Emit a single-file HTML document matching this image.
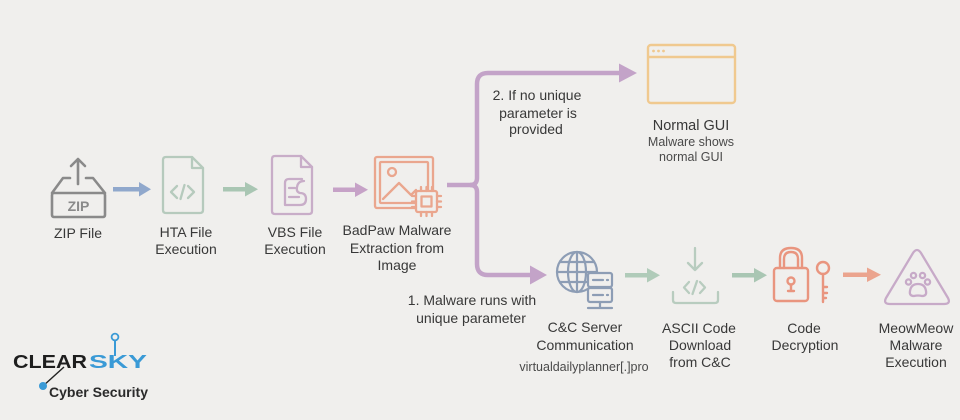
<!DOCTYPE html>
<html>
<head>
<meta charset="utf-8">
<style>
  html,body{margin:0;padding:0;background:#f0efed;}
  svg{display:block;}
  text{font-family:"Liberation Sans",Arial,sans-serif;}
</style>
</head>
<body>
<svg width="960" height="420" viewBox="0 0 960 420" xmlns="http://www.w3.org/2000/svg">
  <rect width="960" height="420" fill="#f0efed"/>

  <!-- ZIP icon -->
  <g stroke="#8a8a8a" stroke-width="2.6" fill="none" stroke-linecap="round" stroke-linejoin="round">
    <path d="M78 184 V159 M71 166 L78 159 L85 166"/>
    <path d="M70 178 H63 L52 193 M86 178 H93 L105 193"/>
    <rect x="52" y="193" width="53" height="24" rx="2"/>
  </g>
  <text x="78.5" y="211" font-weight="bold" font-size="14" fill="#8a8a8a" text-anchor="middle">ZIP</text>

  <!-- Arrow 1 -->
  <g fill="#90a8cc">
    <rect x="113" y="187" width="28" height="4.5"/>
    <polygon points="139,182 151,189.2 139,196.5"/>
  </g>

  <!-- HTA doc -->
  <g stroke="#b6cabd" stroke-width="2.3" fill="none" stroke-linecap="round" stroke-linejoin="round">
    <path d="M166 157 H192 L203 168 V210 Q203 213 200 213 H166 Q163 213 163 210 V160 Q163 157 166 157 Z"/>
    <path d="M192 157 V168 H203"/>
    <path d="M177 186 L171 192 L177 198 M188 186 L194 192 L188 198 M184.5 185 L180.5 199"/>
  </g>

  <!-- Arrow 2 -->
  <g fill="#a9c6b3">
    <rect x="223" y="187" width="24" height="4.5"/>
    <polygon points="245,182 258,189.2 245,196.5"/>
  </g>

  <!-- VBS doc -->
  <g stroke="#c8adc8" stroke-width="2.3" fill="none" stroke-linecap="round" stroke-linejoin="round">
    <path d="M275 156 H301 L312 167 V211 Q312 214 309 214 H275 Q272 214 272 211 V159 Q272 156 275 156 Z"/>
    <path d="M301 156 V167 H312"/>
    <path d="M302 179 H289 Q285 179 285 183 V205 H300 Q306 205 306 199 Q306 193 300 193 Q296 192 297 187 Q298 181 304 181"/>
    <path d="M289 188 H295 M289 197 H299"/>
  </g>

  <!-- Arrow 3 -->
  <g fill="#c6a2c7">
    <rect x="333" y="187.5" width="24" height="4.5"/>
    <polygon points="355,182.5 368,189.7 355,197"/>
  </g>

  <!-- BadPaw image + chip -->
  <g stroke="#eaa68e" stroke-width="2.3" fill="none" stroke-linecap="round" stroke-linejoin="round">
    <rect x="375" y="157" width="58" height="51" rx="2"/>
    <rect x="380" y="162" width="48" height="41" rx="1"/>
    <circle cx="392" cy="172" r="4"/>
    <polyline points="383,199 399,183 411,195 416,190"/>
    <rect x="416" y="191" width="21" height="21" rx="2" fill="#f0efed"/>
    <rect x="421.5" y="196.5" width="10" height="10"/>
    <path d="M421 187 V191 M426.5 187 V191 M432 187 V191 M421 212 V216 M426.5 212 V216 M432 212 V216 M412 196 H416 M412 201.5 H416 M412 207 H416 M437 196 H441 M437 201.5 H441 M437 207 H441"/>
  </g>

  <!-- Brace connectors -->
  <g stroke="#c3a3c8" stroke-width="4.5" fill="none" stroke-linecap="butt" stroke-linejoin="round">
    <path d="M447 185 H470 Q477 185 477 178 V84 Q477 73 488 73 H621"/>
    <path d="M470 185 Q477 185 477 192 V264 Q477 275 488 275 H532"/>
  </g>
  <g fill="#c3a3c8">
    <polygon points="619,63.5 637,73 619,82.5"/>
    <polygon points="530,265.5 547,275 530,284.5"/>
  </g>

  <!-- Normal GUI window -->
  <g stroke="#f0c98f" stroke-width="2.4" fill="none">
    <rect x="648" y="45" width="87" height="58" rx="3"/>
    <line x1="648" y1="57" x2="735" y2="57"/>
  </g>
  <g fill="#f0c98f">
    <circle cx="653.5" cy="51" r="1.4"/>
    <circle cx="658.5" cy="51" r="1.4"/>
    <circle cx="663.5" cy="51" r="1.4"/>
  </g>

  <!-- Globe + server -->
  <g stroke="#8d9db5" stroke-width="2.2" fill="none" stroke-linecap="round">
    <circle cx="577" cy="272" r="20"/>
    <ellipse cx="577" cy="272" rx="9" ry="20"/>
    <line x1="577" y1="252" x2="577" y2="292"/>
    <line x1="557" y1="272" x2="597" y2="272"/>
    <path d="M560 262 H594 M560 282 H590"/>
    <rect x="588" y="273" width="24" height="14" rx="2" fill="#f0efed"/>
    <rect x="588" y="288" width="24" height="14" rx="2" fill="#f0efed"/>
    <path d="M593 280 H603 M593 295 H603 M607 280 H608 M607 295 H608"/>
    <path d="M600 302 V307 M588 308 H612"/>
  </g>

  <!-- Arrow 4 -->
  <g fill="#b0cbb9">
    <rect x="625" y="273" width="24" height="4.5"/>
    <polygon points="647,268 660,275.2 647,282.5"/>
  </g>

  <!-- ASCII download -->
  <g stroke="#b8ccbf" stroke-width="2.3" fill="none" stroke-linecap="round" stroke-linejoin="round">
    <path d="M695 248 V270 M688 263 L695 270 L702 263"/>
    <path d="M689 282 L684 287.5 L689 293 M700 282 L705 287.5 L700 293 M697 281 L692.5 294"/>
    <path d="M673 292 V300 Q673 303 676 303 H715 Q718 303 718 300 V292"/>
  </g>

  <!-- Arrow 5 -->
  <g fill="#a9c6b3">
    <rect x="732" y="273" width="24" height="4.5"/>
    <polygon points="754,268 767,275.2 754,282.5"/>
  </g>

  <!-- Lock + key -->
  <g stroke="#e9957f" stroke-width="2.4" fill="none" stroke-linecap="round" stroke-linejoin="round">
    <path d="M780 268 V258 Q780 248 791 248 Q802 248 802 258 V268"/>
    <path d="M784 268 V259 Q784 252 791 252 Q798 252 798 259 V268"/>
    <rect x="774" y="268" width="34" height="33" rx="3"/>
    <circle cx="791" cy="281" r="3.5"/>
    <path d="M791 284.5 V291 M788 291 H794"/>
    <circle cx="823" cy="268" r="6"/>
    <path d="M823 274 V302 M823 287 H827 M823 293 H827 M823 298 H826"/>
  </g>

  <!-- Arrow 6 -->
  <g fill="#eba48e">
    <rect x="843" y="272.5" width="26" height="4.5"/>
    <polygon points="867,267.5 881,274.7 867,282"/>
  </g>

  <!-- MeowMeow triangle + paw -->
  <g stroke="#c7aac8" stroke-width="2.3" fill="none" stroke-linejoin="round" stroke-linecap="round">
    <path d="M913 253 Q917 247 921 253 L948 298 Q951 304 944 304 H890 Q883 304 886 298 Z"/>
    <path d="M918 284 Q911 284 910 291 Q909 296 914 296 Q918 295 922 296 Q927 296 926 291 Q925 284 918 284 Z"/>
    <circle cx="908.5" cy="282" r="2.6"/>
    <circle cx="913.5" cy="275.5" r="2.6"/>
    <circle cx="922.5" cy="275.5" r="2.6"/>
    <circle cx="927.5" cy="282" r="2.6"/>
  </g>

  <!-- Labels -->
  <g font-size="14" fill="#383838" text-anchor="middle">
    <text x="78" y="238">ZIP File</text>
    <text x="186" y="237">HTA File</text>
    <text x="186" y="254">Execution</text>
    <text x="295" y="237">VBS File</text>
    <text x="295" y="254">Execution</text>
    <text x="397" y="235">BadPaw Malware</text>
    <text x="397" y="253">Extraction from</text>
    <text x="397" y="270">Image</text>

    <text x="537" y="100">2. If no unique</text>
    <text x="538" y="118">parameter is</text>
    <text x="536" y="134">provided</text>

    <text x="691" y="130" font-size="14.5">Normal GUI</text>

    <text x="472" y="305">1. Malware runs with</text>
    <text x="471" y="323">unique parameter</text>

    <text x="585" y="332">C&amp;C Server</text>
    <text x="585" y="350">Communication</text>

    <text x="699" y="333">ASCII Code</text>
    <text x="700" y="350">Download</text>
    <text x="700" y="367">from C&amp;C</text>

    <text x="804" y="333">Code</text>
    <text x="805" y="350">Decryption</text>

    <text x="916" y="333">MeowMeow</text>
    <text x="916" y="350">Malware</text>
    <text x="916" y="367">Execution</text>
  </g>
  <g font-size="12.5" fill="#4a4a4a" text-anchor="middle">
    <text x="691" y="146">Malware shows</text>
    <text x="691" y="161">normal GUI</text>
    <text x="584" y="371">virtualdailyplanner[.]pro</text>
  </g>

  <!-- ClearSky logo -->
  <line x1="43" y1="386" x2="64" y2="367" stroke="#222" stroke-width="1.4"/>
  <circle cx="43" cy="386" r="4" fill="#3a9ad6"/>
  <line x1="115" y1="340.5" x2="115" y2="356" stroke="#3a9ad6" stroke-width="2"/>
  <circle cx="115" cy="337" r="3.4" fill="none" stroke="#3a9ad6" stroke-width="1.8"/>
  <text x="13" y="368" font-size="18" font-weight="bold" fill="#1e1e1e" textLength="74" lengthAdjust="spacingAndGlyphs">CLEAR</text>
  <text x="89" y="368" font-size="18" font-weight="bold" fill="#3a9ad6" textLength="58" lengthAdjust="spacingAndGlyphs">SKY</text>
  <text x="49" y="397" font-size="14" font-weight="bold" fill="#2a2a2a" textLength="99" lengthAdjust="spacingAndGlyphs">Cyber Security</text>
</svg>
</body>
</html>
